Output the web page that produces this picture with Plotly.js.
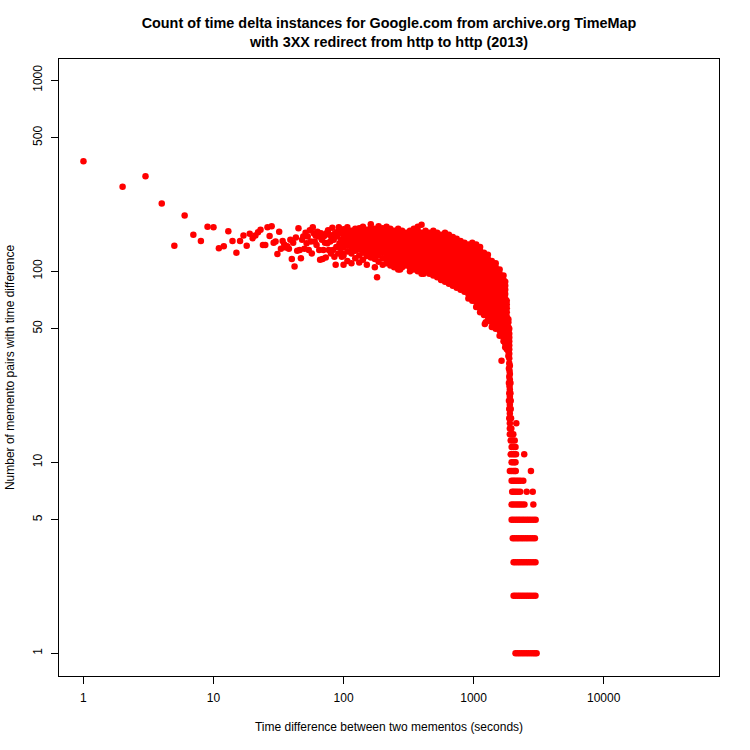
<!DOCTYPE html>
<html>
<head>
<meta charset="utf-8">
<script src="https://cdn.plot.ly/plotly-3.0.1.min.js"></script>
<style>
  html, body { margin: 0; padding: 0; background: #fff; }
  #chart { width: 750px; height: 750px; }
</style>
</head>
<body>
<div id="chart"></div>
<script>
// sparse start: one point per second value (x = seconds, y = pairs)
var headX = [1,2,3,4,5,6,7,8,9,10,11,12,13,14,15,16,17,18,19,20,21,22,23,24,25,26,27,28,29,30,
  31,32,33,34,35,36,37,38,39,40,41,42,43,44,45,46,47,48,49,50,51,52,53,54,55,56,57,58,59,60,
  61,62,63,64,65,66,67,68,69,70,71,72,73,74,75,76,77,78,79,80,81,82,83,84,85,86,87,88,89,90,
  91,92,93,94,95,96,97,98,99];
var headY = [377,277,314,226,136,196,155,144,171,170,132,135,162,144,125,144,154,136,157,149,154,160,165,137,137,170,153,172,141,143,
  123,161,131,144,138,133,135,131,146,116,141,106,150,128,168,129,117,146,152,131,159,140,152,129,164,143,124,170,158,143,
  154,137,161,152,129,115,158,146,116,129,153,141,118,158,140,164,129,155,143,124,150,169,129,146,119,158,108,134,152,161,
  124,170,140,158,132,146,119,164,124];

// dense cloud: x position and the counts seen around it
var bodyX = [100,107,115,123,132,141,151,162,174,186,200,214,229,245,263,282,302,324,347,372,398,427,457,490,525,562,
  603,646,692,741,794,851,912,977,1047,1122,1202,1288,1380,1479,1585,1698,1750,1800,1850,1880];
var bodyY = [
  [108,121,134,142,150,158,166],
  [113,127,136,145,153,161,170],
  [110,124,131,139,147,155,163],
  [117,128,136,143,151,158,167],
  [111,121,130,138,145,152,160,168],
  [115,125,133,140,147,154,162,171],
  [108,120,129,136,143,150,157,165],
  [118,126,133,140,147,154,161,169,176],
  [105,116,124,131,138,145,152,159,167],
  [112,121,128,135,142,149,156,164,172],
  [108,117,125,132,139,146,153,160,168],
  [110,116,122,128,134,141,148,155,163,171],
  [107,113,119,125,131,138,144,151,159,167],
  [105,110,116,122,128,134,141,148,155,163],
  [102,107,113,119,125,131,138,144,151,159,167],
  [105,110,116,122,128,134,141,148,155,163],
  [107,113,119,125,131,138,144,151,159],
  [100,105,110,116,122,128,134,141,148,155,163],
  [102,107,113,119,125,131,138,144,151,159,167],
  [100,105,110,116,122,128,134,141,148,155,163,171],
  [97,102,107,113,119,125,131,138,144,151,159,175],
  [100,105,110,116,122,128,134,141,148,155,163],
  [97,102,107,113,119,125,131,138,144,151,159],
  [95,100,105,110,116,122,128,134,141,148,155,163],
  [93,97,102,107,113,119,125,131,138,144,151,159],
  [90,95,100,105,110,116,122,128,134,141,148,155],
  [88,93,97,102,107,113,119,125,131,138,144,151,159],
  [86,90,95,100,105,110,116,122,128,134,141,148,155],
  [84,88,93,97,102,107,113,119,125,131,138,144,151],
  [82,86,90,95,100,105,110,116,122,128,134,141,148],
  [80,84,88,93,97,102,107,113,119,125,131,138,144],
  [78,82,86,90,95,100,105,110,116,122,128,134,141],
  [72,76,80,84,88,93,97,102,107,113,119,125,131,138],
  [70,74,78,82,86,90,95,100,105,110,116,122,128,134,141],
  [65,69,72,76,80,84,88,93,97,102,107,113,119,125,131,138],
  [61,64,67,70,74,78,82,86,90,95,100,105,110,116,122,128,134],
  [59,62,65,69,72,76,80,84,88,93,97,102,107,113,119,125],
  [55,58,61,64,67,70,74,78,82,86,90,95,100,105,110,116,122],
  [51,54,56,59,62,65,69,72,76,80,84,88,93,97,102,107,113],
  [50,52,55,58,61,64,67,70,74,78,82,86,90,95,100,105,110],
  [46,49,51,54,56,59,62,65,69,72,76,80,84,88,93,97,102],
  [43,45,47,50,52,55,58,61,64,67,70,74,78,82,86,90,95],
  [40,42,44,46,49,51,54,56,59,62,65,69,72,76,80,84,88],
  [39,41,43,45,47,50,52,55,58,61,64,67,70],
  [36,38,40,42,44,46,49,51,54,56],
  [33,35,37,39,41,43,45,47,50]
];

// stray points off the cloud
var strayX = [181,272,413,1220,1240,1640,2130,2450];
var strayY = [93,102,97,53,54,34,16,11];

// steep drop: count value and the seconds where it shows up
var trunkY = [32,31,30,29,28,27,26,25,24,23,22,21,20,19,18,17,16,15,14,13,12,11];
var trunkX = [
  [1900],[1870],[1890],[1900],[1880],[1900],[1870,1920],[1890],[1900],[1880,1920],[1900],
  [1870,1930],[1900],[1880,1930],[1900],[1880,1940],[1900],[1900,1950],[1900,1960,2020],
  [1930,2000,2070],[1960,2030,2100],[1930,2000,2060,2120]
];

// low counts form flat rows
var bandY = [10,9,8,7,6,5,4,3,2,1];
var bandX = [
  [1960,2010,2060,2100],
  [1900,1960,2020,2070,2110,2760],
  [1960,2020,2080,2150,2220,2300,2410],
  [1980,2040,2110,2190,2280,2560,2850],
  [1960,2030,2110,2190,2270,2360,2460,2880],
  [1960,2030,2110,2190,2270,2360,2450,2550,2650,2760,2880,3000],
  [2000,2070,2150,2230,2320,2410,2510,2610,2720,2840,2960],
  [2030,2100,2180,2260,2350,2440,2540,2640,2750,2870,2990],
  [2030,2100,2180,2260,2350,2440,2540,2640,2750,2870,2990],
  [2100,2180,2260,2350,2440,2540,2640,2750,2860,2960,3050]
];

var xs = headX.slice(), ys = headY.slice();
bodyX.forEach(function(x, i) { bodyY[i].forEach(function(y) { xs.push(x); ys.push(y); }); });
strayX.forEach(function(x, i) { xs.push(x); ys.push(strayY[i]); });
trunkY.forEach(function(y, i) { trunkX[i].forEach(function(x) { xs.push(x); ys.push(y); }); });
bandY.forEach(function(y, i) { bandX[i].forEach(function(x) { xs.push(x); ys.push(y); }); });

var trace = {
  x: xs, y: ys,
  type: 'scatter', mode: 'markers',
  marker: {color: '#ff0000', size: 6.5, line: {width: 0}},
  hoverinfo: 'x+y'
};

var fnt = 'Liberation Sans, Arial, Helvetica, sans-serif';

var layout = {
  width: 750, height: 750,
  margin: {l: 59, r: 31, t: 59, b: 74},
  paper_bgcolor: '#fff', plot_bgcolor: '#fff',
  showlegend: false,
  font: {family: fnt, size: 12, color: '#000'},
  title: {
    text: '<b>Count of time delta instances for Google.com from archive.org TimeMap<br>with 3XX redirect from http to http (2013)</b>',
    font: {family: fnt, size: 14.4, color: '#000'},
    x: 0.5, xref: 'paper', y: 1 - 28/750, yref: 'container', yanchor: 'top'
  },
  xaxis: {
    type: 'log', range: [-0.188, 4.887],
    tickvals: [1, 10, 100, 1000, 10000],
    ticktext: ['1', '10', '100', '1000', '10000'],
    ticks: 'outside', ticklen: 7, tickcolor: '#000', tickwidth: 1,
    ticklabelstandoff: 4,
    showgrid: false, zeroline: false,
    showline: true, mirror: true, linecolor: '#000', linewidth: 1,
    tickfont: {family: fnt, size: 12, color: '#000'},
    title: {text: 'Time difference between two mementos (seconds)', standoff: 18,
      font: {family: fnt, size: 12, color: '#000'}}
  },
  yaxis: {
    type: 'log', range: [-0.119, 3.111],
    tickvals: [1, 5, 10, 50, 100, 500, 1000],
    ticktext: ['1', '5', '10', '50', '100', '500', '1000'],
    tickangle: -90,
    ticks: 'outside', ticklen: 7, tickcolor: '#000', tickwidth: 1,
    ticklabelstandoff: 4,
    showgrid: false, zeroline: false,
    showline: true, mirror: true, linecolor: '#000', linewidth: 1,
    tickfont: {family: fnt, size: 12, color: '#000'},
    title: {text: 'Number of memento pairs with time difference', standoff: 14,
      font: {family: fnt, size: 12, color: '#000'}}
  }
};

Plotly.newPlot('chart', [trace], layout, {displayModeBar: false, staticPlot: true});
</script>
</body>
</html>
